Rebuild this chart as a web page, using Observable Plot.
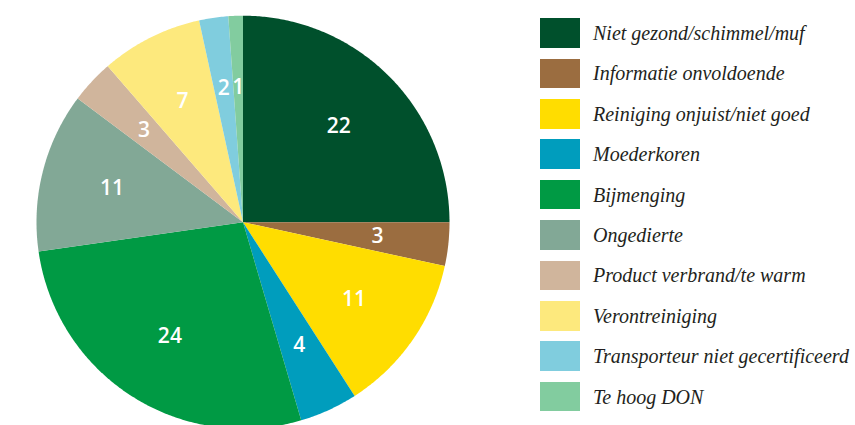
<!DOCTYPE html>
<html><head><meta charset="utf-8">
<script src="https://cdn.jsdelivr.net/npm/d3@7"></script>
<script src="https://cdn.jsdelivr.net/npm/@observablehq/plot@0.6"></script>
<style>
html,body{margin:0;padding:0;background:#fff;}
#wrap{position:relative;width:855px;height:425px;overflow:hidden;}
#chart svg{display:block;}
#legend{position:absolute;left:540px;top:12.85px;}
.row{display:flex;align-items:center;height:40.4px;}
.sw{width:40px;height:29.5px;margin-right:13px;flex:none;}
.lab{font-family:"Liberation Serif";font-style:italic;font-size:20px;color:#231f20;line-height:1;white-space:nowrap;}
</style></head><body>
<div id="wrap"><div id="chart"></div><div id="legend"></div></div>
<script>
const categories = ["Niet gezond/schimmel/muf","Informatie onvoldoende","Reiniging onjuist/niet goed","Moederkoren","Bijmenging","Ongedierte","Product verbrand/te warm","Verontreiniging","Transporteur niet gecertificeerd","Te hoog DON"];
const values = [22,3,11,4,24,11,3,7,2,1];
const colors = ["#00502c","#9b6d40","#ffdd00","#009dbd","#009a44","#82a896","#d0b59c","#fde97d","#80cdde","#82cc9f"];

const data = categories.map((c,i)=>({cat:c, v:values[i]}));
const arcs = d3.pie().value(d=>d.v).sort(null).startAngle(0).endAngle(2*Math.PI)(data);

const pts = [];
for (const a of arcs) {
  const c = a.data.cat;
  pts.push({cat:c, x:0, y:0});
  const n = Math.max(2, Math.ceil((a.endAngle - a.startAngle) / (Math.PI/360)));
  for (let k=0;k<=n;k++){
    const t = a.startAngle + (a.endAngle - a.startAngle)*k/n;
    pts.push({cat:c, x:Math.sin(t), y:Math.cos(t)});
  }
  pts.push({cat:c, x:0, y:0});
}
const labelR = 0.655;
const labels = arcs.map(a=>{const m=(a.startAngle+a.endAngle)/2; return {cat:a.data.cat, v:a.data.v, x:labelR*Math.sin(m), y:labelR*Math.cos(m)};});

const chart = Plot.plot({
  width: 855, height: 425,
  x: {domain:[-1,1], range:[36,449], axis:null},
  y: {domain:[-1,1], range:[428.2,15.2], axis:null},
  color: {domain: categories, range: colors},
  style: {background:"white"},
  marks: [
    Plot.line(pts, {x:"x", y:"y", z:"cat", fill:"cat", stroke:"none", curve:"linear"}),
    Plot.text(labels, {x:"x", y:"y", text:"v", fill:"white", fontSize:21, fontFamily:"Open Sans", fontWeight:600})
  ]
});
document.getElementById("chart").appendChild(chart);

const leg = document.getElementById("legend");
categories.forEach((c,i)=>{
  const r=document.createElement("div"); r.className="row";
  const s=document.createElement("div"); s.className="sw"; s.style.background=colors[i];
  const t=document.createElement("div"); t.className="lab"; t.textContent=c;
  r.appendChild(s); r.appendChild(t); leg.appendChild(r);
});
</script>
</body></html>
